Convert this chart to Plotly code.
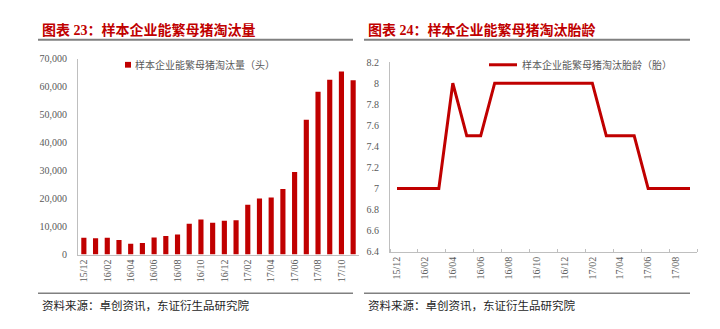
import plotly.graph_objects as go

# ---- data ----
cull_months = ["15/12", "16/01", "16/02", "16/03", "16/04", "16/05", "16/06", "16/07",
               "16/08", "16/09", "16/10", "16/11", "16/12", "17/01", "17/02", "17/03",
               "17/04", "17/05", "17/06", "17/07", "17/08", "17/09", "17/10", "17/11"]
cull_heads = [6000, 5800, 6000, 5200, 3900, 4100, 6100, 6600,
              7200, 11000, 12500, 11400, 12100, 12300, 17800, 20000,
              20400, 23400, 29500, 48200, 58200, 62500, 65400, 62300]

parity_months = ["15/12", "16/01", "16/02", "16/03", "16/04", "16/05", "16/06", "16/07",
                 "16/08", "16/09", "16/10", "16/11", "16/12", "17/01", "17/02", "17/03",
                 "17/04", "17/05", "17/06", "17/07", "17/08", "17/09"]
parity_values = [7, 7, 7, 7, 8, 7.5, 7.5, 8,
                 8, 8, 8, 8, 8, 8, 8, 7.5,
                 7.5, 7.5, 7, 7, 7, 7]

left_title = "图表 23：样本企业能繁母猪淘汰量"
right_title = "图表 24：样本企业能繁母猪淘汰胎龄"
left_series = "样本企业能繁母猪淘汰量（头）"
right_series = "样本企业能繁母猪淘汰胎龄（胎）"
source_text = "资料来源：卓创资讯，东证衍生品研究院"

# ---- page geometry ----
W, H = 720, 329
RED = "#C00000"
TICK = "#595959"
AXIS = "#BFBFBF"
SERIF = "Liberation Serif, Noto Sans CJK SC"
CJK = "Noto Sans CJK SC"


def px(x):
    return x / W


def py(y):
    return 1 - y / H


fig = go.Figure()

fig.add_trace(go.Bar(
    x=cull_months, y=cull_heads, marker_color=RED, marker_line_width=0,
    name=left_series, showlegend=False, xaxis="x", yaxis="y",
))

parity_idx = list(range(len(parity_months)))
fig.add_trace(go.Scatter(
    x=parity_idx, y=parity_values, mode="lines",
    line=dict(color=RED, width=3), name=right_series,
    showlegend=False, xaxis="x2", yaxis="y2",
))

tick_font = dict(family=SERIF, size=10, color=TICK)

fig.update_layout(
    width=W, height=H,
    margin=dict(l=0, r=0, t=0, b=0),
    paper_bgcolor="white", plot_bgcolor="white",
    bargap=0.56,
    xaxis=dict(
        domain=[px(78), px(359)], anchor="y",
        type="category",
        tickvals=cull_months[::2], ticktext=cull_months[::2],
        tickangle=-90, tickfont=tick_font,
        showline=True, linecolor=AXIS, linewidth=1,
        showgrid=False, ticks="", ticklen=0,
    ),
    yaxis=dict(
        domain=[py(258), py(54.7)], anchor="x",
        range=[0, 70000], tickvals=list(range(0, 70001, 10000)),
        tickformat=",", tickfont=tick_font,
        showline=True, linecolor=AXIS, linewidth=1,
        showgrid=False, zeroline=False, ticks="", ticklabelstandoff=8,
    ),
    xaxis2=dict(
        domain=[px(390), px(697)], anchor="y2",
        range=[-0.5, len(parity_months) - 0.5],
        tickvals=parity_idx[::2], ticktext=parity_months[::2],
        tickangle=-90, tickfont=tick_font,
        showline=True, linecolor=AXIS, linewidth=1,
        showgrid=False, zeroline=False, ticks="",
        minor=dict(
            tickvals=[i - 0.5 for i in range(0, len(parity_months) + 1, 2)],
            ticks="inside", ticklen=3, tickcolor=AXIS, tickwidth=1,
        ),
    ),
    yaxis2=dict(
        domain=[py(255), py(58.3)], anchor="x2",
        range=[6.4, 8.2], dtick=0.2, tick0=6.4,
        tickfont=tick_font,
        showline=True, linecolor=AXIS, linewidth=1,
        showgrid=False, zeroline=False, ticks="", ticklabelstandoff=8,
    ),
)

annotations = []
shapes = []

# titles with grey rule underneath, and footer rule with source line
for x0, x1, title in [(40, 353, left_title), (366, 690, right_title)]:
    annotations.append(dict(
        x=px(x0), y=py(25), xref="paper", yref="paper",
        xanchor="left", yanchor="middle", showarrow=False,
        text="<b>" + title + "</b>",
        font=dict(family=SERIF, size=14, color=RED),
    ))
    shapes.append(dict(type="line", xref="paper", yref="paper",
                       x0=px(x0 - 2), x1=px(x1), y0=py(35), y1=py(35),
                       line=dict(color="#808080", width=2)))
    shapes.append(dict(type="line", xref="paper", yref="paper",
                       x0=px(x0 - 2), x1=px(x1), y0=py(298), y1=py(298),
                       line=dict(color="#808080", width=1.5)))
    annotations.append(dict(
        x=px(x0), y=py(310), xref="paper", yref="paper",
        xanchor="left", yanchor="middle", showarrow=False,
        text=source_text,
        font=dict(family=CJK, size=11.5, color="#262626"),
    ))

# legend keys
shapes.append(dict(type="rect", xref="paper", yref="paper",
                   x0=px(125), x1=px(131), y0=py(64), y1=py(58),
                   fillcolor=RED, line=dict(width=0)))
annotations.append(dict(
    x=px(133), y=py(61), xref="paper", yref="paper",
    xanchor="left", yanchor="middle", showarrow=False,
    text=left_series, font=dict(family=CJK, size=10, color=TICK),
))
shapes.append(dict(type="line", xref="paper", yref="paper",
                   x0=px(489), x1=px(517), y0=py(61), y1=py(61),
                   line=dict(color=RED, width=3)))
annotations.append(dict(
    x=px(520), y=py(61), xref="paper", yref="paper",
    xanchor="left", yanchor="middle", showarrow=False,
    text=right_series, font=dict(family=CJK, size=10, color=TICK),
))

fig.update_layout(annotations=annotations, shapes=shapes)

fig.write_html("out.html")
